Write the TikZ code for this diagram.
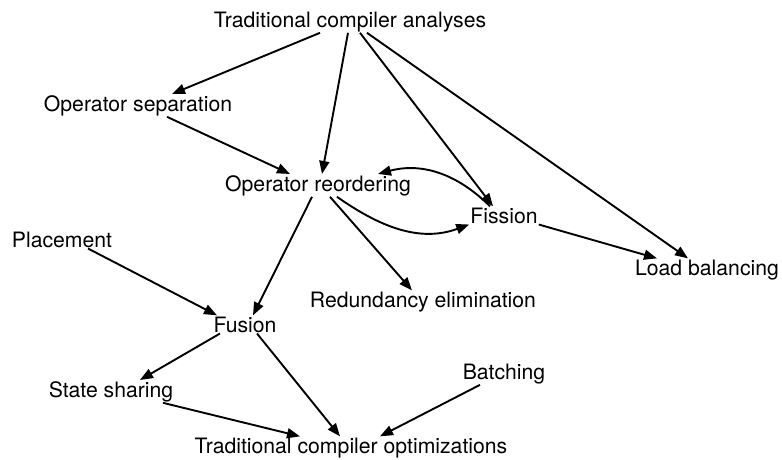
\documentclass[tikz,border=0pt]{standalone}
\usepackage{fontspec}
\setmainfont{TeX Gyre Heros}
\usepackage{tikz}
\usetikzlibrary{arrows.meta}

\begin{document}
\begin{tikzpicture}[
    x=1pt, y=-1pt,
    lbl/.style={anchor=base, inner sep=1pt, font=\fontsize{21.2}{25}\selectfont},
    arrow/.style={line width=1.9pt, -{Triangle[length=13pt,width=10pt]}}
]
\useasboundingbox (0,0) rectangle (782,459);

% Nodos
\node (analyses) [lbl] at (350,27) {Traditional compiler analyses};
\node (separation) [lbl] at (138,111) {Operator separation};
\node (reordering) [lbl] at (318,191) {Operator reordering};
\node (fission) [lbl] at (504,223) {Fission};
\node (placement) [lbl] at (62,247) {Placement};
\node (balancing) [lbl] at (707,275) {Load balancing};
\node (redundancy) [lbl] at (423,307) {Redundancy elimination};
\node (fusion) [lbl] at (245,332) {Fusion};
\node (batching) [lbl] at (504,379) {Batching};
\node (sharing) [lbl] at (111,397) {State sharing};
\node (optimizations) [lbl] at (351,453) {Traditional compiler optimizations};

% Flechas desde los análisis
\draw [arrow] ([xshift=-30pt]analyses.south) -- ([xshift=34pt]separation.north);
\draw [arrow] ([xshift=-2pt]analyses.south) -- ([xshift=4pt]reordering.north);
\draw [arrow] ([xshift=10pt]analyses.south) -- ([xshift=-11pt]fission.north);
\draw [arrow] ([xshift=17pt]analyses.south) -- ([xshift=-19pt]balancing.north);

\draw [arrow] ([xshift=29pt]separation.south) -- ([xshift=-28pt]reordering.north);

% Reordenamiento y fisión
\draw [arrow] ([xshift=-14pt]fission.north) to[out=135,in=15] ([xshift=60pt]reordering.north);
\draw [arrow] ([xshift=19pt]reordering.south) to[out=-35,in=200] (fission.south west);
\draw [arrow] (fission.south east) -- ([xshift=-50pt]balancing.north);
\draw [arrow] ([xshift=12pt]reordering.south) -- ([xshift=-11pt]redundancy.north);
\draw [arrow] ([xshift=-6pt]reordering.south) -- ([xshift=8pt]fusion.north);

% Fusión
\draw [arrow] ([xshift=26pt]placement.south) -- ([xshift=-28pt]fusion.north);
\draw [arrow] ([xshift=-25pt]fusion.south) -- ([xshift=29pt]sharing.north);
\draw [arrow] ([xshift=12pt]fusion.south) -- ([xshift=-11pt]optimizations.north);
\draw [arrow] ([xshift=52pt]sharing.south) -- ([xshift=-51pt]optimizations.north);
\draw [arrow] ([xshift=-24pt]batching.south) -- ([xshift=29pt]optimizations.north);

\end{tikzpicture}
\end{document}
